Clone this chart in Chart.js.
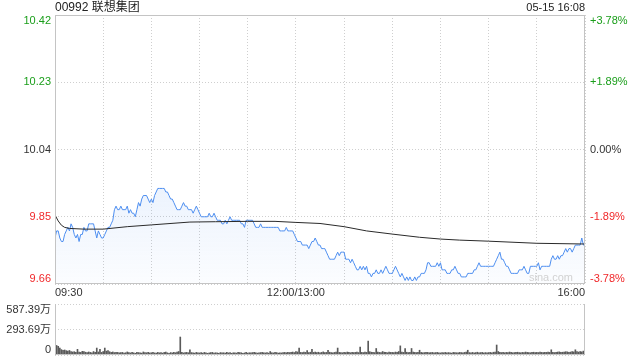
<!DOCTYPE html>
<html>
<head>
<meta charset="utf-8">
<script src="https://cdn.jsdelivr.net/npm/chart.js@4/dist/chart.umd.min.js"></script>
<style>
  html, body { margin: 0; padding: 0; background: #fff; }
  #wrap { position: relative; width: 640px; height: 360px; overflow: hidden; }
  canvas { position: absolute; left: 0; }
  #priceChart { top: 0; }
  #volChart { top: 300px; }
</style>
</head>
<body>
<div id="wrap">
  <canvas id="priceChart" width="640" height="300"></canvas>
  <canvas id="volChart" width="640" height="60"></canvas>
</div>
<script>
// 标题和参考价
const stockTitle = '00992 联想集团';
const timeStamp = '05-15 16:08';
const prevClose = 10.04;

// 坐标轴刻度
const priceTicks = [10.42, 10.23, 10.04, 9.85, 9.66];
const pctLabels = ['+3.78%', '+1.89%', '0.00%', '-1.89%', '-3.78%'];
const timeTicks = [0, 150, 330];
const timeLabels = ['09:30', '12:00/13:00', '16:00'];
const volTicks = [587.39, 293.69, 0];
const volLabels = ['587.39万', '293.69万', '0'];

// 分时价格 (每分钟, 09:30 - 16:00)
const prices = [
  9.79,9.81,9.81,9.79,9.78,9.78,9.80,9.81,9.82,9.81,
  9.83,9.82,9.80,9.79,9.80,9.78,9.80,9.80,9.82,9.81,
  9.81,9.83,9.83,9.83,9.83,9.81,9.79,9.81,9.80,9.79,
  9.79,9.80,9.81,9.82,9.82,9.83,9.84,9.87,9.88,9.87,
  9.87,9.88,9.87,9.87,9.87,9.88,9.86,9.87,9.86,9.86,
  9.85,9.87,9.89,9.88,9.90,9.91,9.91,9.91,9.90,9.89,
  9.90,9.89,9.91,9.92,9.93,9.93,9.93,9.93,9.93,9.92,
  9.92,9.91,9.90,9.90,9.89,9.88,9.87,9.87,9.87,9.88,
  9.89,9.88,9.88,9.87,9.87,
  9.87,9.86,9.87,9.88,9.87,9.86,9.85,9.85,9.85,9.85,
  9.85,9.86,9.85,9.85,9.86,9.85,9.84,9.84,9.84,9.83,
  9.83,9.84,9.83,9.84,9.85,9.84,9.84,9.84,9.84,9.84,
  9.84,9.83,9.83,9.82,9.84,9.84,9.84,9.84,9.84,9.83,
  9.82,9.82,9.82,9.83,9.82,9.82,9.82,9.82,9.82,9.82,
  9.82,9.82,9.82,9.82,9.82,9.81,9.81,9.81,9.81,9.82,
  9.81,9.81,9.81,9.81,9.80,9.79,9.78,9.78,9.78,9.77,
  9.77,9.77,9.77,9.76,9.77,9.78,9.78,9.79,9.78,9.77,
  9.77,9.76,9.76,
  9.76,9.75,9.74,9.73,9.73,9.73,9.73,9.74,9.75,9.74,
  9.75,9.75,9.75,9.73,9.73,9.73,9.72,9.73,9.72,9.71,
  9.70,9.70,9.71,9.70,9.71,9.70,9.71,9.69,9.69,9.68,
  9.69,9.69,9.70,9.69,9.69,9.70,9.69,9.70,9.71,9.70,
  9.69,9.69,9.69,9.70,9.71,9.70,9.69,9.68,9.69,9.68,
  9.67,9.68,9.67,9.68,9.67,9.67,9.68,9.67,9.68,9.68,
  9.69,9.69,9.69,9.70,9.72,9.72,9.71,9.71,9.71,9.71,
  9.72,9.71,9.72,9.70,9.70,9.70,9.69,9.69,9.69,9.70,
  9.70,9.71,9.70,9.69,9.69,
  9.68,9.68,9.68,9.68,9.69,9.69,9.69,9.69,9.70,9.70,
  9.71,9.72,9.71,9.71,9.71,9.71,9.71,9.71,9.71,9.71,
  9.71,9.72,9.73,9.74,9.75,9.73,9.73,9.72,9.71,9.71,
  9.70,9.69,9.69,9.69,9.69,9.69,9.70,9.70,9.70,9.71,
  9.70,9.69,9.69,9.71,9.71,9.71,9.71,9.71,9.72,9.70,
  9.71,9.71,9.71,9.71,9.71,9.71,9.73,9.74,9.73,9.73,
  9.74,9.73,9.74,9.74,9.75,9.76,9.75,9.76,9.76,9.75,
  9.76,9.77,9.77,9.77,9.77,9.79,9.77,9.77
];

// 均价线
const avgMinutes = [0, 2, 4, 6, 9, 18, 30, 45, 60, 84, 100, 120, 137, 150, 165, 180, 194, 210, 227, 240, 252, 270, 300, 330];
const avgPrices = [9.855, 9.838, 9.826, 9.820, 9.817, 9.815, 9.815, 9.822, 9.827, 9.835, 9.836, 9.837, 9.837, 9.834, 9.831, 9.822, 9.810, 9.801, 9.792, 9.787, 9.784, 9.781, 9.775, 9.773];

// 成交量 (万股)
const volumes = [
  287,110,100,80,62,55,58,50,45,52, 40,35,38,30,65,35,30,42,40,32, 28,35,30,25,40,30,80,35,65,30,
  40,80,45,50,38,30,35,28,32,30, 25,28,30,22,26,35,28,24,30,25, 20,30,28,24,22,35,28,26,30,24,
  26,30,24,22,30,25,28,22,30,34, 25,20,28,24,30,26,35,40,207,30, 24,28,30,26,60,28,24,22,30,26,
  24,28,22,30,26,20,24,28,30,22, 26,24,20,28,24,26,22,30,24,28, 20,26,24,22,30,28,26,20,24,30,
  22,26,24,28,30,26,22,24,28,30, 26,24,28,22,40,26,24,30,28,22, 26,24,28,30,26,32,28,30,34,28,
  40,35,80,30,28,34,30,50,28,32, 65,30,34,28,32,26,30,36,28,30, 55,32,28,26,30,34,80,30,28,26,
  30,28,34,30,26,32,28,30,34,28, 90,30,28,34,30,160,38,32,30,28, 75,34,30,28,40,32,30,26,34,30,
  30,28,34,30,40,105,35,30,75,32, 28,30,75,34,30,28,32,55,30,26, 28,32,30,26,28,30,24,28,30,26,
  24,28,26,30,24,28,26,22,30,28, 26,24,30,28,26,30,34,55,28,26, 30,24,28,32,26,28,30,24,28,26,
  28,30,26,32,34,115,40,30,28,32, 26,30,28,34,30,26,28,30,32,28, 26,30,28,34,30,28,26,30,32,28,
  30,28,34,30,28,32,30,34,30,60, 32,28,30,34,36,30,32,34,38,36, 30,34,40,36,60,38,34,40,36,45,
  587.39
];

const FONT = '11px "Liberation Sans", Arial, sans-serif';
const GREEN = '#1a9e1a';
const RED = '#f0282a';
const DARK = '#333';
const FRAME = '#c4c4c4';
const DOT = '#cfcfcf';

// 半小时一条竖向网格
const gridMinutes = [];
for (let m = 0; m <= 330; m += 30) gridMinutes.push(m);

function tickColor(v) {
  if (v > prevClose + 1e-6) return GREEN;
  if (v < prevClose - 1e-6) return RED;
  return DARK;
}

function baselineFor(i, n) {
  if (i === 0) return 'top';
  if (i === n - 1) return 'bottom';
  return 'middle';
}

// 主图边框和文字
const priceDecor = {
  id: 'priceDecor',
  afterDraw(chart) {
    const { ctx, chartArea: a, scales: { x, y } } = chart;
    ctx.save();
    ctx.setLineDash([]);
    ctx.strokeStyle = FRAME;
    ctx.lineWidth = 1;
    ctx.strokeRect(Math.round(a.left) + 0.5, Math.round(a.top) + 0.5,
      Math.round(a.right - a.left) - 1, Math.round(a.bottom - a.top) - 1);

    ctx.font = FONT;
    priceTicks.forEach((v, i) => {
      const py = y.getPixelForValue(v);
      ctx.textBaseline = baselineFor(i, priceTicks.length);
      ctx.fillStyle = tickColor(v);
      ctx.textAlign = 'right';
      ctx.fillText(v.toFixed(2), a.left - 4, py);
      ctx.textAlign = 'left';
      ctx.fillText(pctLabels[i], a.right + 5, py);
    });

    ctx.fillStyle = DARK;
    ctx.textBaseline = 'top';
    timeTicks.forEach((m, i) => {
      const px = x.getPixelForValue(m);
      ctx.textAlign = i === 0 ? 'left' : (i === timeTicks.length - 1 ? 'right' : 'center');
      ctx.fillText(timeLabels[i], px, a.bottom + 3);
    });

    ctx.textBaseline = 'middle';
    ctx.font = '12px "Liberation Sans", Arial, "Noto Sans CJK SC", sans-serif';
    ctx.fillStyle = '#222';
    ctx.textAlign = 'left';
    ctx.fillText(stockTitle, a.left, 8);
    ctx.font = FONT;
    ctx.textAlign = 'right';
    ctx.fillText(timeStamp, a.right, 8);

    ctx.fillStyle = '#d2d2d2';
    ctx.fillText('sina.com', a.right - 12, a.bottom - 6);
    ctx.restore();
  }
};

// 成交量边框和文字
const volDecor = {
  id: 'volDecor',
  afterDraw(chart) {
    const { ctx, chartArea: a, scales: { y } } = chart;
    ctx.save();
    ctx.setLineDash([]);
    ctx.strokeStyle = FRAME;
    ctx.lineWidth = 1;
    const l = Math.round(a.left) + 0.5, r = Math.round(a.right) - 0.5, b = Math.round(a.bottom) - 0.5;
    ctx.beginPath();
    ctx.moveTo(l, Math.round(a.top)); ctx.lineTo(l, b);
    ctx.lineTo(r, b); ctx.lineTo(r, Math.round(a.top));
    ctx.stroke();

    ctx.font = '11px "Liberation Sans", Arial, "Noto Sans CJK SC", sans-serif';
    ctx.fillStyle = DARK;
    ctx.textAlign = 'right';
    volTicks.forEach((v, i) => {
      ctx.textBaseline = baselineFor(i, volTicks.length);
      ctx.fillText(volLabels[i], a.left - 4, y.getPixelForValue(v));
    });
    ctx.restore();
  }
};

function fillGradient(context) {
  const a = context.chart.chartArea;
  if (!a) return 'rgba(0,0,0,0)';
  const g = context.chart.ctx.createLinearGradient(0, a.top, 0, a.bottom);
  g.addColorStop(0, 'rgba(77,142,240,0.26)');
  g.addColorStop(1, 'rgba(77,142,240,0.02)');
  return g;
}

new Chart(document.getElementById('priceChart'), {
  type: 'line',
  data: {
    datasets: [
      {
        label: '均价',
        data: avgMinutes.map((m, i) => ({ x: m, y: avgPrices[i] })),
        borderColor: '#2a2a2a',
        borderWidth: 1,
        pointRadius: 0,
        fill: false,
        tension: 0,
        order: 0
      },
      {
        label: '价格',
        data: prices.map((p, i) => ({ x: i, y: p })),
        borderColor: '#4d8ef0',
        borderWidth: 1,
        pointRadius: 0,
        fill: 'start',
        backgroundColor: fillGradient,
        tension: 0,
        order: 1
      }
    ]
  },
  options: {
    responsive: false,
    animation: false,
    layout: { padding: { left: 55, right: 55, top: 15, bottom: 16 } },
    plugins: { legend: { display: false }, tooltip: { enabled: false } },
    scales: {
      x: {
        type: 'linear', min: 0, max: 330,
        afterBuildTicks: s => { s.ticks = gridMinutes.map(v => ({ value: v })); },
        ticks: { display: false },
        grid: { color: DOT, lineWidth: 1, drawTicks: false },
        border: { display: false, dash: [1, 2] }
      },
      y: {
        type: 'linear', min: 9.66, max: 10.42,
        afterBuildTicks: s => { s.ticks = priceTicks.map(v => ({ value: v })); },
        ticks: { display: false },
        grid: { color: DOT, lineWidth: 1, drawTicks: false },
        border: { display: false, dash: [1, 2] }
      }
    }
  },
  plugins: [priceDecor]
});

new Chart(document.getElementById('volChart'), {
  type: 'bar',
  data: {
    datasets: [{
      label: '成交量',
      data: volumes.map((v, i) => ({ x: i, y: v })),
      backgroundColor: '#5a5a5a',
      borderWidth: 0,
      barThickness: 1
    }]
  },
  options: {
    responsive: false,
    animation: false,
    layout: { padding: { left: 55, right: 55, top: 4, bottom: 5 } },
    plugins: { legend: { display: false }, tooltip: { enabled: false } },
    scales: {
      x: {
        type: 'linear', min: 0, max: 330, offset: false,
        ticks: { display: false },
        grid: { display: false, drawTicks: false },
        border: { display: false }
      },
      y: {
        type: 'linear', min: 0, max: 587.39,
        afterBuildTicks: s => { s.ticks = volTicks.map(v => ({ value: v })); },
        ticks: { display: false },
        grid: { color: DOT, lineWidth: 1, drawTicks: false },
        border: { display: false, dash: [1, 2] }
      }
    }
  },
  plugins: [volDecor]
});
</script>
</body>
</html>
